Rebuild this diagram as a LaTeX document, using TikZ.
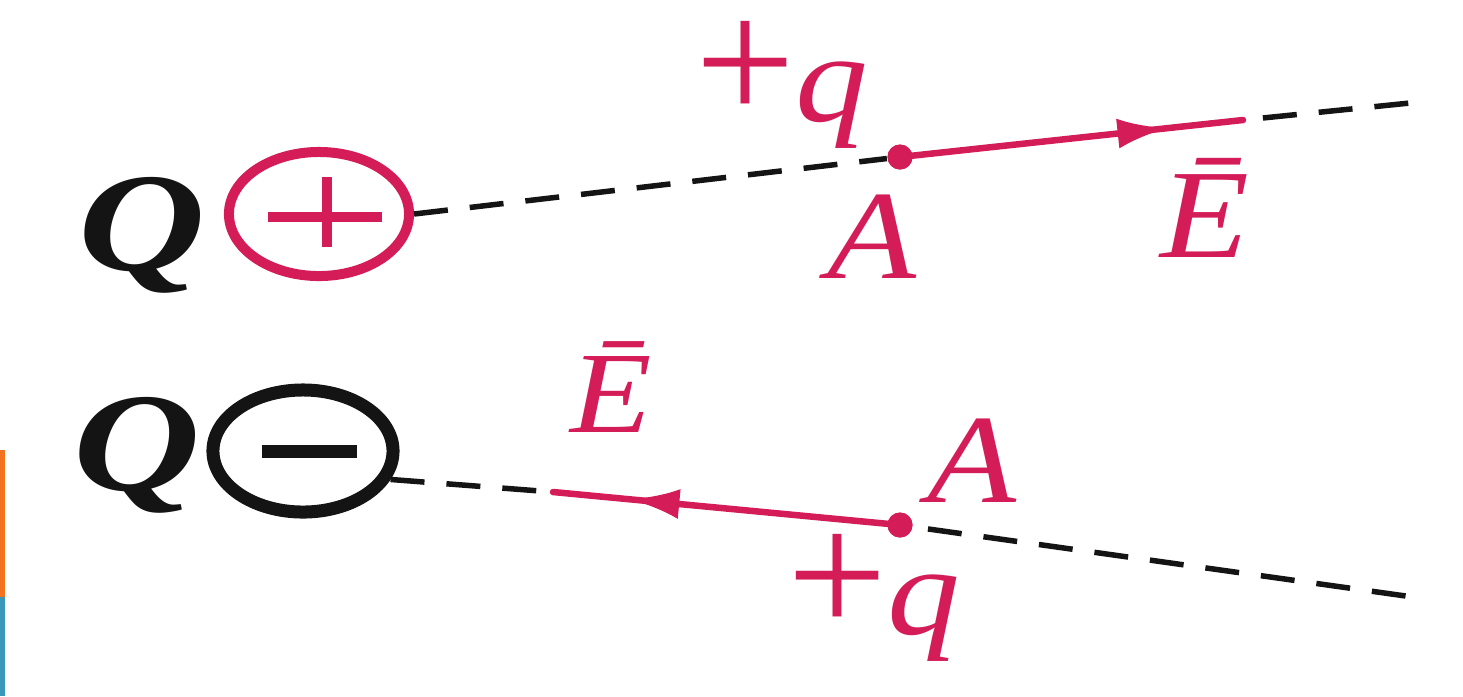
\documentclass[tikz,border=0pt]{standalone}
\usepackage{fontspec}
\setmainfont{Liberation Serif}
\usetikzlibrary{shapes.geometric, arrows.meta, decorations.markings}
\definecolor{charge}{RGB}{212, 28, 88}
\definecolor{ink}{RGB}{20, 20, 20}
\definecolor{slideorange}{RGB}{244, 115, 33}
\definecolor{slideblue}{RGB}{58, 152, 185}
\newcommand{\stretched}[1]{\scalebox{1.15}[1]{#1}}
\tikzset{
    poscharge/.style={ellipse, draw=charge, line width=0.1cm, minimum width=1.8cm, minimum height=1.24cm, inner sep=0pt},
    negcharge/.style={ellipse, draw=ink, line width=0.13cm, minimum width=1.8cm, minimum height=1.22cm, inner sep=0pt},
    signbar/.style={line width=0.1cm},
    fieldline/.style={dash pattern=on 0.34cm off 0.22cm, line width=0.055cm, color=ink},
    testpoint/.style={circle, fill=charge, inner sep=0pt, minimum size=0.25cm},
    efield/.style={line width=0.065cm, color=charge, line cap=round, postaction={decorate},
        decoration={markings, mark=at position 0.78 with {\arrow{Latex[length=0.5cm, width=0.3cm]}}}},
    bigletter/.style={font=\fontsize{40}{44}\selectfont\bfseries\itshape, text=ink, anchor=base west, inner sep=0pt},
    label_text/.style={font=\fontsize{36}{40}\selectfont\itshape, text=charge, anchor=base west, inner sep=0pt}
}

\begin{document}
\begin{tikzpicture}[x=0.01cm, y=-0.01cm]

    \useasboundingbox (0,0) rectangle (1463,696);

    % Slide edge
    \fill[slideorange] (0,450) rectangle (5,597);
    \fill[slideblue] (0,597) rectangle (5,696);

    % Positive charge
    \node (Qtop) [bigletter] at (78,270) {\scalebox{1.25}[1]{Q}};
    \node (Qp) [poscharge] at (319,214) {};
    \draw [signbar, charge] ([shift={(-51,3)}]Qp.center) -- ([shift={(63,3)}]Qp.center);
    \draw [signbar, charge] ([shift={(8,-37)}]Qp.center) -- ([shift={(8,33)}]Qp.center);

    % Negative charge
    \node (Qbot) [bigletter] at (73,490) {\scalebox{1.25}[1]{Q}};
    \node (Qm) [negcharge] at (303,451) {};
    \draw [signbar, ink, line width=0.13cm] ([shift={(-41,0)}]Qm.center) -- ([shift={(54,0)}]Qm.center);

    % Points A and field ends
    \node (Atop) [testpoint] at (900,157) {};
    \coordinate (Etop) at (1243,120);
    \coordinate (topEnd) at (1410,103);
    \node (Abot) [testpoint] at (900,525) {};
    \coordinate (Ebot) at (553,492);
    \coordinate (botEnd) at (1420,598);

    % Field lines
    \draw [fieldline] (Qp.east) -- (Atop);
    \draw [fieldline, shorten <=0.2cm] (Etop) -- (topEnd);
    \draw [fieldline] (Qm.-18) -- (Ebot);
    \draw [fieldline, shorten <=0.15cm] (Abot) -- (botEnd);

    % E vectors
    \draw [efield] (Atop.center) -- (Etop);
    \draw [efield] (Abot.center) -- (Ebot);
    \node [testpoint] at (Atop) {};
    \node [testpoint] at (Abot) {};

    % LABELS
    \node (qtop) [label_text] at (695,121) {\upshape\scalebox{1.4}{+}\itshape\stretched{q}};
    \node (lblAtop) [label_text] at (827,278) {\stretched{A}};
    \node (lblEtop) [label_text] at (1160,257) {\stretched{Ē}};
    \node (lblEbot) [label_text, font=\fontsize{33}{36}\selectfont\itshape] at (570,432) {\stretched{Ē}};
    \node (lblAbot) [label_text] at (927,502) {\stretched{A}};
    \node (qbot) [label_text] at (787,634) {\upshape\scalebox{1.4}{+}\itshape\stretched{q}};

\end{tikzpicture}
\end{document}
